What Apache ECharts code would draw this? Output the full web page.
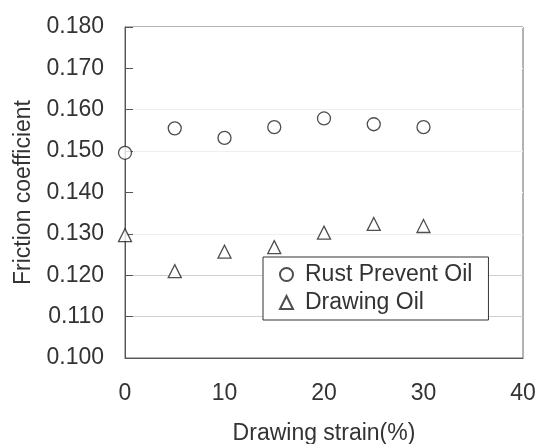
<!DOCTYPE html>
<html>

<head>
    <meta charset='utf-8'>
    <title>Friction coefficient</title>
    <script src='https://cdn.jsdelivr.net/npm/echarts@6/dist/echarts.min.js'></script>
    <style>
        body { margin: 0; background: #fff; }
        #chart { width: 538px; height: 444px; }
    </style>
</head>

<body>
    <div id='chart'></div>

    <script type='text/javascript'>
        // data
        const strain = [0, 5, 10, 15, 20, 25, 30]
        const rustPreventOil = [0.1496, 0.1555, 0.1532, 0.1558, 0.1579, 0.1565, 0.1558]
        const drawingOil = [0.1297, 0.1210, 0.1257, 0.1268, 0.1303, 0.1324, 0.1319]
        const seriesNames = ['Rust Prevent Oil', 'Drawing Oil']

        const font = 'Liberation Sans, Arial, sans-serif'
        const textColor = '#333'

        const toPoints = (ys) => strain.map((x, i) => [x, ys[i]])

        const chart = echarts.init(document.getElementById('chart'))
        const option = {
            animation: false,
            textStyle: { fontFamily: font },
            grid: {
                left: 125, top: 27, right: 15, bottom: 86,
                outerBoundsMode: 'none',
                show: true,
                borderColor: '#666',
                borderWidth: 1
            },
            legend: {
                data: seriesNames,
                orient: 'vertical',
                left: 263,
                top: 257,
                padding: [6, 16, 6, 16],
                itemGap: 5,
                itemWidth: 13,
                itemHeight: 13,
                backgroundColor: '#fff',
                borderColor: '#333',
                borderWidth: 1,
                textStyle: { fontSize: 23, color: textColor, fontFamily: font, padding: [0, 0, 0, 7] }
            },
            xAxis: {
                type: 'value',
                min: 0,
                max: 40,
                interval: 10,
                name: 'Drawing strain(%)',
                nameLocation: 'middle',
                nameGap: 64,
                nameTextStyle: { fontSize: 23, color: textColor, fontFamily: font },
                axisLine: { lineStyle: { color: '#555' } },
                axisTick: { show: false },
                splitLine: { show: false },
                axisLabel: { fontSize: 23, color: textColor, margin: 24, fontFamily: font }
            },
            yAxis: {
                type: 'value',
                min: 0.1,
                max: 0.18,
                interval: 0.01,
                name: 'Friction coefficient',
                nameLocation: 'middle',
                nameGap: 88,
                nameTextStyle: { fontSize: 23, color: textColor, fontFamily: font },
                axisLine: { show: true, lineStyle: { color: '#555' } },
                axisTick: { show: true, inside: true, length: 8, lineStyle: { color: '#555' } },
                splitLine: {
                    show: true,
                    lineStyle: {
                        color: ['#fff', '#cfcfcf', '#cfcfcf', '#efefef', '#fff', '#efefef', '#efefef', '#fff', '#fff']
                    }
                },
                axisLabel: {
                    fontSize: 23, color: textColor, margin: 21, fontFamily: font,
                    formatter: (v) => v.toFixed(3)
                }
            },
            series: [{
                name: seriesNames[0],
                type: 'scatter',
                symbol: 'circle',
                symbolSize: 13,
                data: toPoints(rustPreventOil),
                itemStyle: { color: '#fff', borderColor: '#222', borderWidth: 1.3 }
            }, {
                name: seriesNames[1],
                type: 'scatter',
                symbol: 'triangle',
                symbolSize: 13,
                data: toPoints(drawingOil),
                itemStyle: { color: '#fff', borderColor: '#222', borderWidth: 1.3 }
            }]
        }
        chart.setOption(option)
    </script>
</body>

</html>
